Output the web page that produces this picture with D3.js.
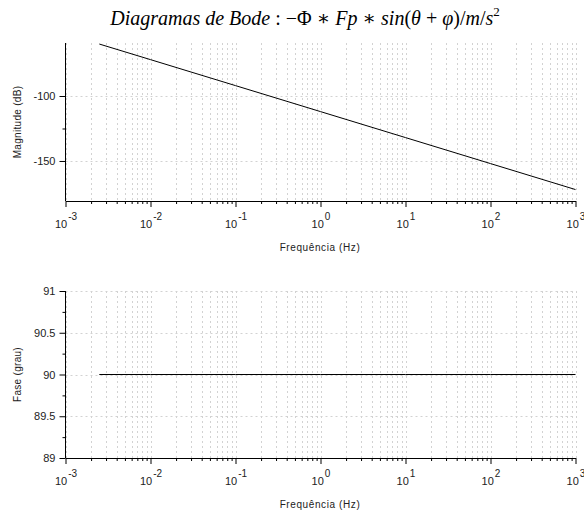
<!DOCTYPE html>
<html>
<head>
<meta charset="utf-8">
<script src="https://cdn.jsdelivr.net/npm/d3@7"></script>
<style>
body { margin: 0; background: #fff; }
svg { display: block; }
.lbl { font-family: "Liberation Sans", Arial, sans-serif; }
</style>
</head>
<body>
<svg width="584" height="514"></svg>
<script>
const svg = d3.select("svg");

// values
const freq = [0.0025, 0.01, 0.1, 1, 10, 100, 1000];
const magnitude = [-60, -72, -92, -112, -132, -152, -172];
const phase = [90, 90, 90, 90, 90, 90, 90];

const decades = [-3, -2, -1, 0, 1, 2, 3];
const magTicks = [-100, -150];
const magMinor = [-125];
const phaseTicks = [91, 90.5, 90, 89.5, 89];
const phaseMinor = [90.75, 90.25, 89.75, 89.25];

const x = d3.scaleLog().domain([1e-3, 1e3]).range([65.5, 575.5]);

let minor = [];
decades.slice(0, -1).forEach(function (e) {
	for (let k = 2; k <= 9; k++) minor.push(k * Math.pow(10, e));
});
const majors = decades.map((e) => Math.pow(10, e));

function panel(top, bottom, domain, ticks, mticks, ylabel, values, fmt) {
	const y = d3.scaleLinear().domain(domain).range([bottom, top]);
	const g = svg.append("g");

	// grid
	g.selectAll(".vg")
		.data(majors.concat(minor))
		.join("line")
		.attr("x1", (d) => Math.round(x(d)) + 0.5)
		.attr("x2", (d) => Math.round(x(d)) + 0.5)
		.attr("y1", top)
		.attr("y2", bottom)
		.attr("stroke", "#d2d2d2")
		.attr("stroke-dasharray", "2,3");
	g.selectAll(".hg")
		.data(ticks.filter((d) => y(d) < bottom - 1))
		.join("line")
		.attr("x1", 65.5)
		.attr("x2", 575.5)
		.attr("y1", (d) => Math.round(y(d)) + 0.5)
		.attr("y2", (d) => Math.round(y(d)) + 0.5)
		.attr("stroke", "#d2d2d2")
		.attr("stroke-dasharray", "2,3");

	// axes
	const ax = g.append("g").attr("transform", `translate(0,${bottom})`)
		.call(d3.axisBottom(x).tickValues(majors).tickSize(6).tickSizeOuter(0).tickFormat(() => ""));
	g.append("g").attr("transform", `translate(0,${bottom})`)
		.call(d3.axisBottom(x).tickValues(minor).tickSize(3).tickSizeOuter(0).tickFormat(() => ""))
		.select(".domain").remove();
	ax.selectAll(".tick text").remove();
	ax.selectAll(".tick")
		.append("text")
		.attr("class", "lbl")
		.attr("y", 27)
		.attr("fill", "#222")
		.attr("font-size", 11)
		.attr("text-anchor", "middle")
		.each(function (d) {
			const t = d3.select(this);
			t.append("tspan").text("10");
			t.append("tspan").attr("dx", 1).attr("dy", -8).attr("font-size", 10).text(Math.round(Math.log10(d)));
		});

	const ay = g.append("g").attr("transform", "translate(65.5,0)")
		.call(d3.axisLeft(y).tickValues(ticks).tickSize(6).tickSizeOuter(0).tickFormat(fmt));
	g.append("g").attr("transform", "translate(65.5,0)")
		.call(d3.axisLeft(y).tickValues(mticks).tickSize(3).tickSizeOuter(0).tickFormat(() => ""))
		.select(".domain").remove();
	ay.select(".domain").attr("d", `M0,${top}V${bottom}`);
	ay.selectAll(".tick text").attr("class", "lbl").attr("font-size", 11).attr("fill", "#222").attr("x", -10);

	g.selectAll(".domain, .tick line").attr("stroke", "#000");

	// labels
	g.append("text")
		.attr("class", "lbl")
		.attr("x", 320)
		.attr("y", bottom + 50)
		.attr("text-anchor", "middle")
		.attr("font-size", 10)
		.attr("letter-spacing", 0.6)
		.attr("fill", "#222")
		.text("Frequência (Hz)");
	g.append("text")
		.attr("class", "lbl")
		.attr("transform", `translate(21,${(top + bottom) / 2}) rotate(-90)`)
		.attr("text-anchor", "middle")
		.attr("font-size", 10)
		.attr("letter-spacing", 0.3)
		.attr("fill", "#222")
		.text(ylabel);

	// curve
	g.append("path")
		.datum(values)
		.attr("fill", "none")
		.attr("stroke", "#000")
		.attr("stroke-width", 1)
		.attr("d", d3.line().x((d, i) => x(freq[i])).y((d) => y(d)));
}

panel(43, 201, [-180.8, -59.2], magTicks, magMinor, "Magnitude (dB)", magnitude, (d) => d);
panel(291, 458, [89, 91], phaseTicks, phaseMinor, "Fase (grau)", phase, (d) => d);

// title
const title = svg.append("text")
	.attr("x", 305)
	.attr("y", 25)
	.attr("text-anchor", "middle")
	.attr("font-family", "'Liberation Serif', 'DejaVu Serif', serif")
	.attr("font-size", 20)
	.attr("fill", "#000");
title.append("tspan").attr("font-style", "italic").text("Diagramas de Bode");
title.append("tspan").text(" :  −Φ ∗ ");
title.append("tspan").attr("font-style", "italic").text("Fp");
title.append("tspan").text(" ∗ ");
title.append("tspan").attr("font-style", "italic").text("sin");
title.append("tspan").text("(");
title.append("tspan").attr("font-style", "italic").text("θ");
title.append("tspan").text(" + ");
title.append("tspan").attr("font-style", "italic").text("φ");
title.append("tspan").text(")/");
title.append("tspan").attr("font-style", "italic").text("m");
title.append("tspan").text("/");
title.append("tspan").attr("font-style", "italic").text("s");
title.append("tspan").attr("dy", -9).attr("font-size", 13).text("2");
</script>
</body>
</html>
